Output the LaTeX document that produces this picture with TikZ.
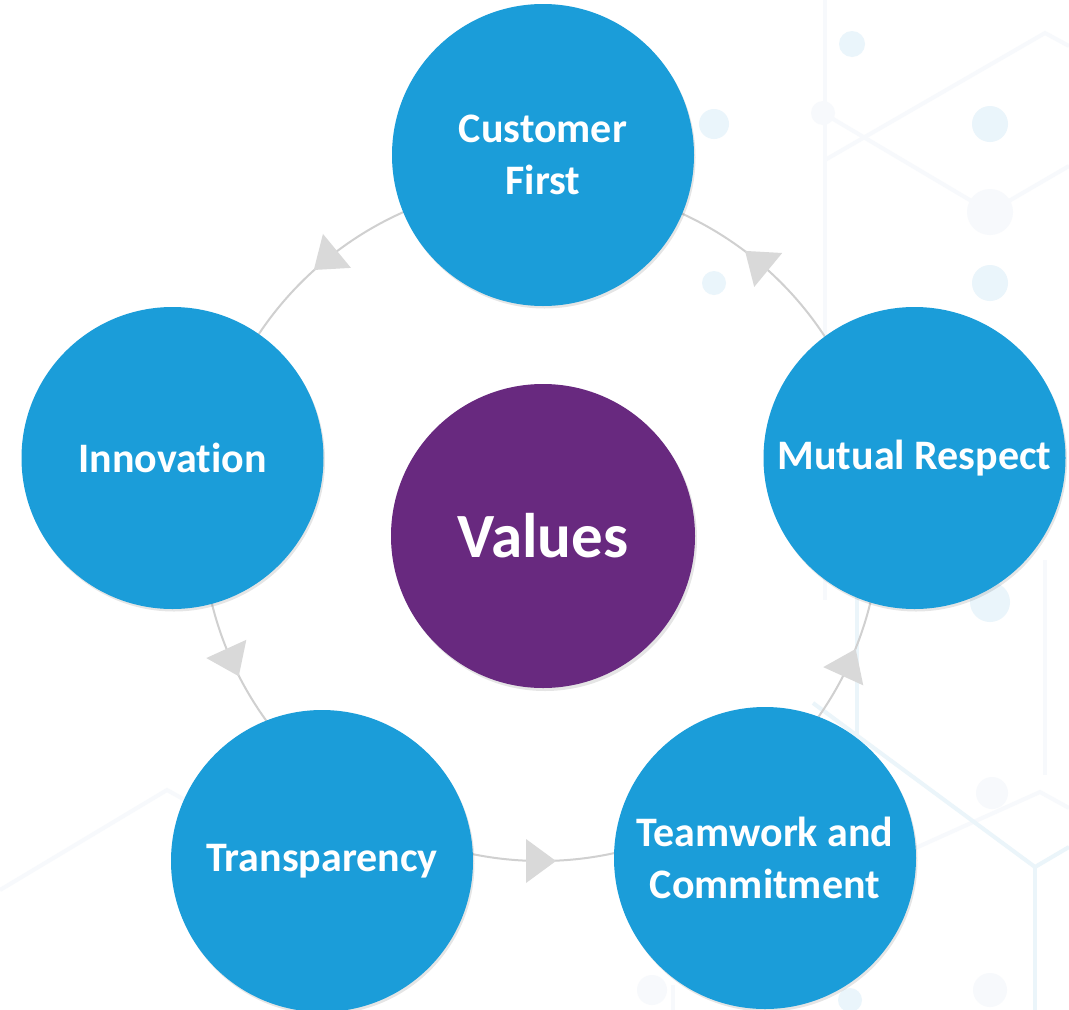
\documentclass[tikz,border=0pt]{standalone}
\usepackage{fontspec}
\setmainfont{Carlito}[RawFeature={-liga}]
\usetikzlibrary{calc}
\definecolor{cblue}{HTML}{1B9DD9}
\definecolor{cpurple}{HTML}{68297F}
\definecolor{ringgray}{HTML}{D0D0D0}
\definecolor{arrowgray}{HTML}{D9D9D9}
\definecolor{bgdot}{HTML}{EAF5FB}
\definecolor{bgfaint}{HTML}{F7F9FC}
\definecolor{bglight}{HTML}{EBF5FA}
\begin{document}
\begin{tikzpicture}[x=1pt,y=1pt,
  valuenode/.style={circle, fill=cblue, minimum size=302pt, inner sep=0pt,
    text=white, align=center, font=\fontsize{42}{52}\selectfont\bfseries},
  hubnode/.style={circle, fill=cpurple, minimum size=304pt, inner sep=0pt,
    text=white, font=\fontsize{63}{70}\selectfont\bfseries},
  nodeshadow/.style={fill=black, opacity=0.10},
  ringline/.style={draw=ringgray, line width=2pt},
  ringtip/.style={fill=arrowgray},
  bgl/.style={draw=bgfaint, line width=4pt},
  bgb/.style={draw=bglight, line width=4pt}]
\useasboundingbox (0,0) rectangle (1069,-1010);
\fill[white] (0,0) rectangle (1069,-1010);

% faint background pattern
\draw[bgl] (825,0) -- (825,-600);
\draw[bgl] (825,-160) -- (1045,-33) -- (1069,-46);
\draw[bgl] (823,-113) -- (990,-212) -- (1069,-166);
\draw[bgl] (1045,-560) -- (1045,-775);
\draw[bgl] (860,-873) -- (1040,-792) -- (1069,-808);
\draw[bgl] (0,-890) -- (167,-790) -- (185,-800);
\draw[bgl] (673,-985) -- (673,-1010);
\draw[bgb] (857,-580) -- (857,-735);
\draw[bgb] (813,-703) -- (1035,-867) -- (1069,-847);
\draw[bgb] (1035,-867) -- (1035,-1010);
\fill[bgdot] (852,-44) circle (13);
\fill[bgdot] (714,-124) circle (15);
\fill[bgdot] (990,-124) circle (18);
\fill[bgdot] (714,-283) circle (12);
\fill[bgdot] (990,-283) circle (18);
\fill[bgdot] (990,-602) circle (20);
\fill[bgdot] (850,-1000) circle (12);
\fill[bgfaint] (823,-113) circle (12);
\fill[bgfaint] (990,-212) circle (23);
\fill[bgfaint] (992,-793) circle (16);
\fill[bgfaint] (990,-990) circle (17);
\fill[bgfaint] (652,-990) circle (15);

% cycle ring
\coordinate (ringc) at (541,-522);
\draw[ringline] (ringc) circle (339);
\foreach \a in {50.5,129.5,204.5,270,335.5}{
  \fill[ringtip, shift={($(ringc)+(\a:339)$)}, rotate=\a+90]
    (15,0) -- (-15,22) -- (-15,-22) -- cycle;
}

% shadows
\foreach \p in {(543,-155),(914.5,-458),(765,-858),(322,-861),(172.5,-458)}{
  \fill[nodeshadow] \p ++(1.5,-2.5) circle (151);
}
\fill[nodeshadow] (543,-536) ++(2,-3) circle (152);

% nodes
\node[valuenode] (cf) at (543,-155) {Customer\\First};
\node[valuenode] (mr) at (914.5,-458) {Mutual Respect};
\node[valuenode] (tc) at (765,-858) {Teamwork and\\Commitment};
\node[valuenode] (tr) at (322,-861) {Transparency};
\node[valuenode] (in) at (172.5,-458) {Innovation};
\node[hubnode] (val) at (543,-536) {Values};
\end{tikzpicture}
\end{document}
